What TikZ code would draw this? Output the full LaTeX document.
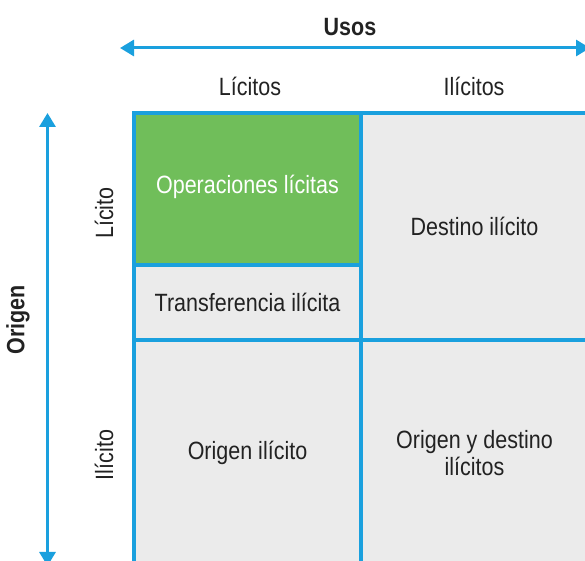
\documentclass[tikz,border=0pt]{standalone}
\usepackage{fontspec}
\setmainfont{Liberation Sans}[FakeStretch=0.86]
\usetikzlibrary{arrows.meta}
\definecolor{lineblue}{RGB}{26,160,222}
\definecolor{cellgreen}{RGB}{112,190,90}
\definecolor{cellgray}{RGB}{235,235,235}
\definecolor{ink}{RGB}{34,34,34}
\tikzstyle{cell}=[draw=lineblue,line width=2pt,fill=cellgray,text=ink,inner sep=0pt,minimum width=113.5pt,align=center,font=\fontsize{12.5}{13.5}\selectfont]
\tikzstyle{axis}=[lineblue,line width=1.5pt,{Triangle[length=7pt,width=8pt]}-{Triangle[length=7pt,width=8pt]}]
\tikzstyle{headtxt}=[text=ink,inner sep=0pt,font=\fontsize{12.5}{13.5}\selectfont]
\tikzstyle{headbold}=[text=ink,inner sep=0pt,font=\fontsize{12.5}{13.5}\selectfont\bfseries]

\begin{document}
\begin{tikzpicture}[x=0.5pt,y=-0.5pt]
\useasboundingbox (0,0) rectangle (585,561);
\clip (0,0) rectangle (585,561);
\node[cell, minimum height=113.25pt] at (474.5,226.75) (Dest) {Destino ilícito};
\node[cell, minimum height=37.5pt] at (247.5,302.5) (Transf) {Transferencia ilícita};
\node[cell, minimum height=113pt] at (247.5,453) (OrigIl) {Origen ilícito};
\node[cell, minimum height=113pt] at (474.5,453) (Ambos) {Origen y destino\\ilícitos};
\node[cell, fill=cellgreen, text=white, minimum height=75.75pt, text depth=5pt] at (247.5,189.25) (Ops) {Operaciones lícitas};
\node[headbold] at (350,27) (Usos) {Usos};
\node[headtxt] at (250,86) (Lic) {Lícitos};
\node[headtxt] at (474,86) (Ilic) {Ilícitos};
\node[headbold, rotate=90] at (18,320) (Orig) {Origen};
\node[headtxt, rotate=90] at (104,213) (LicO) {Lícito};
\node[headtxt, rotate=90] at (104,455) (IlicO) {Ilícito};
\coordinate (UL) at (120,48);
\coordinate (UR) at (590,48);
\coordinate (OT) at (47.5,113);
\coordinate (OB) at (47.5,566);
\draw[axis] (UL) -- (UR);
\draw[axis] (OT) -- (OB);
\end{tikzpicture}
\end{document}
